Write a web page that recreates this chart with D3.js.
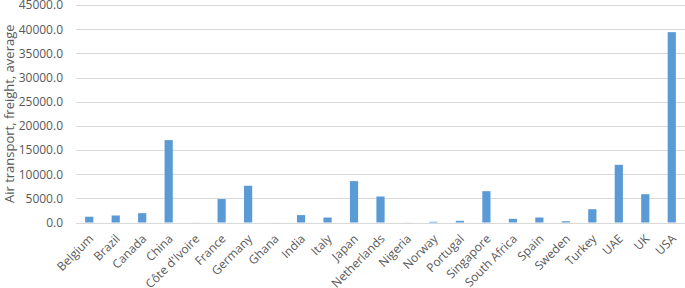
<!DOCTYPE html>
<html>
<head>
<meta charset="utf-8">
<script src="https://cdn.jsdelivr.net/npm/d3@7"></script>
<style>
  body { margin: 0; background: #fff; }
  text { font-family: "Open Sans", sans-serif; fill: #595959; }
</style>
</head>
<body>
<script>
const countries = ["Belgium", "Brazil", "Canada", "China", "Côte d'Ivoire", "France", "Germany", "Ghana",
  "India", "Italy", "Japan", "Netherlands", "Nigeria", "Norway", "Portugal", "Singapore",
  "South Africa", "Spain", "Sweden", "Turkey", "UAE", "UK", "USA"];
const freight = [1200, 1450, 1930, 17050, 20, 4850, 7600, 15,
  1530, 1030, 8560, 5380, 20, 150, 350, 6480,
  760, 1030, 270, 2750, 11930, 5860, 39380];
const yTicks = [0, 5000, 10000, 15000, 20000, 25000, 30000, 35000, 40000, 45000];

const w = 685, h = 288;
const plotLeft = 76, plotRight = 685, plotTop = 5, plotBottom = 222.5;

const svg = d3.select("body").append("svg")
  .attr("width", w)
  .attr("height", h);

const xScale = d3.scaleBand()
  .domain(countries)
  .range([plotLeft, plotRight])
  .paddingInner(0.69)
  .paddingOuter(0.345);

const yScale = d3.scaleLinear()
  .domain([0, 45000])
  .range([plotBottom, plotTop]);

// gridlines
svg.append("g")
  .selectAll("line")
  .data(yTicks)
  .enter()
  .append("line")
  .attr("x1", plotLeft)
  .attr("x2", plotRight)
  .attr("y1", d => Math.round(yScale(d)) + 0.5)
  .attr("y2", d => Math.round(yScale(d)) + 0.5)
  .attr("stroke", "#d9d9d9")
  .attr("stroke-width", 1);

const yAxis = d3.axisLeft(yScale)
  .tickValues(yTicks)
  .tickFormat(d3.format(".1f"))
  .tickSize(0)
  .tickPadding(13);

svg.append("g")
  .attr("transform", "translate(" + plotLeft + ",0)")
  .call(yAxis)
  .call(g => g.select(".domain").remove())
  .selectAll("text")
  .style("font-size", "12px")
  .attr("fill", "#595959");

svg.selectAll("rect.bar")
  .data(freight)
  .enter()
  .append("rect")
  .attr("class", "bar")
  .attr("x", (d, i) => xScale(countries[i]))
  .attr("y", d => yScale(d))
  .attr("width", xScale.bandwidth())
  .attr("height", d => plotBottom - yScale(d))
  .attr("fill", "#5b9bd5");

const xAxis = d3.axisBottom(xScale).tickSize(0).tickPadding(0);

svg.append("g")
  .attr("transform", "translate(0," + plotBottom + ")")
  .call(xAxis)
  .call(g => g.select(".domain").remove())
  .selectAll("text")
  .style("font-size", "12px")
  .attr("fill", "#595959")
  .attr("text-anchor", "end")
  .attr("dy", "0")
  .attr("transform", "translate(5,17) rotate(-45)");

svg.append("text")
  .attr("transform", "translate(14," + ((plotTop + plotBottom) / 2) + ") rotate(-90)")
  .attr("text-anchor", "middle")
  .style("font-size", "13px")
  .text("Air transport, freight, average");
</script>
</body>
</html>
